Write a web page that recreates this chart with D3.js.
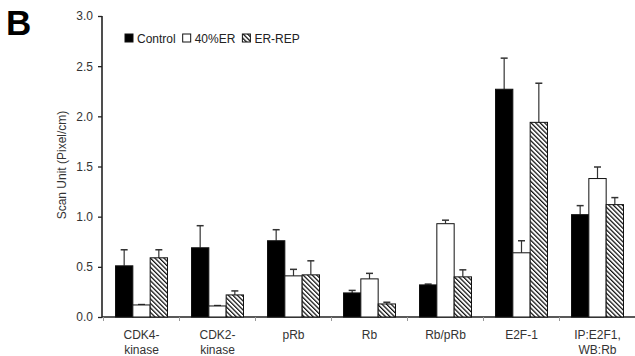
<!DOCTYPE html>
<html>
<head>
<meta charset="utf-8">
<script src="https://cdn.jsdelivr.net/npm/d3@7"></script>
<style>
  html, body { margin: 0; padding: 0; background: #fff; }
  svg { display: block; }
  text { font-family: "Liberation Sans", Arial, Helvetica, sans-serif; fill: #222; }
</style>
</head>
<body>
<svg id="chart" width="635" height="356"></svg>
<script>
// ---- data ----
const categories = [["CDK4-", "kinase"], ["CDK2-", "kinase"], ["pRb"], ["Rb"], ["Rb/pRb"], ["E2F-1"], ["IP:E2F1,", "WB:Rb"]];
const seriesNames = ["Control", "40%ER", "ER-REP"];
const controlValues = [0.51, 0.69, 0.76, 0.24, 0.32, 2.27, 1.02];
const controlErrors = [0.16, 0.22, 0.11, 0.025, 0.008, 0.31, 0.09];
const er40Values = [0.12, 0.11, 0.41, 0.38, 0.93, 0.64, 1.38];
const er40Errors = [0.004, 0.004, 0.065, 0.055, 0.035, 0.12, 0.115];
const erRepValues = [0.59, 0.22, 0.42, 0.13, 0.40, 1.94, 1.12];
const erRepErrors = [0.08, 0.04, 0.14, 0.017, 0.07, 0.39, 0.07];
const yTicks = [0.0, 0.5, 1.0, 1.5, 2.0, 2.5, 3.0];
const yTitle = "Scan Unit (Pixel/cm)";
const panelLabel = "B";

const seriesValues = [controlValues, er40Values, erRepValues];
const seriesErrors = [controlErrors, er40Errors, erRepErrors];

const svg = d3.select("#chart");

// hatch pattern
const defs = svg.append("defs");
const pat = defs.append("pattern")
  .attr("id", "hatch")
  .attr("patternUnits", "userSpaceOnUse")
  .attr("width", 3.2).attr("height", 3.2)
  .attr("patternTransform", "rotate(-45)");
pat.append("rect").attr("width", 3.2).attr("height", 3.2).attr("fill", "#fff");
pat.append("line").attr("x1", 0.6).attr("y1", 0).attr("x2", 0.6).attr("y2", 3.2)
  .attr("stroke", "#111").attr("stroke-width", 1.3);

const fills = ["#000", "#fff", "url(#hatch)"];

// scales
const axisX0 = 102, axisX1 = 635;
const y = d3.scaleLinear().domain([0, 3]).range([317, 16]);
const x = d3.scaleBand().domain(d3.range(categories.length)).range([103.5, 635.5]).paddingInner(0).paddingOuter(0);
const xs = d3.scaleBand().domain(d3.range(seriesNames.length)).range([12, x.bandwidth() - 12]).padding(0);

// panel letter
svg.append("text").attr("x", 6).attr("y", 35)
  .attr("font-size", 35).attr("font-weight", "bold").style("fill", "#000")
  .text(panelLabel);

// y axis
const yAxis = d3.axisLeft(y).tickValues(yTicks).tickFormat(d3.format(".1f")).tickSize(4).tickPadding(5);
const gy = svg.append("g").attr("transform", `translate(${axisX0},0)`).call(yAxis);
gy.select(".domain").attr("stroke", "#222").attr("stroke-width", 1.6).attr("d", `M0,${y(3)}V${y(0)}`);
gy.selectAll(".tick line").attr("stroke", "#222").attr("stroke-width", 1.3);
gy.selectAll(".tick text").attr("font-size", 12).style("fill", "#333")
  .attr("font-family", "Liberation Sans, Arial, sans-serif");

// y title
svg.append("text")
  .attr("transform", `translate(66,165) rotate(-90)`)
  .attr("text-anchor", "middle").attr("font-size", 12).style("fill", "#333")
  .text(yTitle);

// x axis line
svg.append("line").attr("x1", axisX0).attr("x2", axisX1).attr("y1", y(0)).attr("y2", y(0))
  .attr("stroke", "#222").attr("stroke-width", 1.6);
// x ticks at band boundaries
const boundaries = d3.range(categories.length).map(i => x(i));
svg.append("g").selectAll("line").data(boundaries).join("line")
  .attr("x1", d => d).attr("x2", d => d).attr("y1", y(0)).attr("y2", y(0) + 4)
  .attr("stroke", "#999").attr("stroke-width", 1);

// category labels
const lab = svg.append("g").selectAll("text").data(categories).join("text")
  .attr("text-anchor", "middle").attr("font-size", 12).style("fill", "#333")
  .attr("x", (d, i) => x(i) + x.bandwidth() / 2)
  .attr("y", 339);
lab.selectAll("tspan").data(d => d).join("tspan")
  .attr("x", function () { return d3.select(this.parentNode).attr("x"); })
  .attr("dy", (d, i) => i === 0 ? 0 : 14.5)
  .text(d => d);

// bars + error bars
seriesNames.forEach((name, s) => {
  const g = svg.append("g");
  const vals = seriesValues[s], errs = seriesErrors[s];
  g.selectAll("line.err").data(vals).join("line").attr("class", "err")
    .attr("x1", (d, i) => x(i) + xs(s) + xs.bandwidth() / 2)
    .attr("x2", (d, i) => x(i) + xs(s) + xs.bandwidth() / 2)
    .attr("y1", d => y(d)).attr("y2", (d, i) => y(d + errs[i]))
    .attr("stroke", "#333").attr("stroke-width", 1.2);
  g.selectAll("line.cap").data(vals).join("line").attr("class", "cap")
    .attr("x1", (d, i) => x(i) + xs(s) + xs.bandwidth() / 2 - 3.5)
    .attr("x2", (d, i) => x(i) + xs(s) + xs.bandwidth() / 2 + 3.5)
    .attr("y1", (d, i) => y(d + errs[i])).attr("y2", (d, i) => y(d + errs[i]))
    .attr("stroke", "#333").attr("stroke-width", 1.5);
  g.selectAll("rect").data(vals).join("rect")
    .attr("x", (d, i) => x(i) + xs(s))
    .attr("width", xs.bandwidth())
    .attr("y", d => y(d))
    .attr("height", d => y(0) - y(d))
    .attr("fill", fills[s])
    .attr("stroke", "#111").attr("stroke-width", 1);
});

// legend
const leg = svg.append("g");
let lx = 125;
seriesNames.forEach((name, s) => {
  leg.append("rect").attr("x", lx).attr("y", 34).attr("width", 8).attr("height", 8)
    .attr("fill", fills[s]).attr("stroke", "#111").attr("stroke-width", 1);
  const t = leg.append("text").attr("x", lx + 12).attr("y", 42.5).attr("font-size", 12)
    .style("fill", "#222").text(name);
  lx += 12 + t.node().getComputedTextLength() + 7;
});
</script>
</body>
</html>
